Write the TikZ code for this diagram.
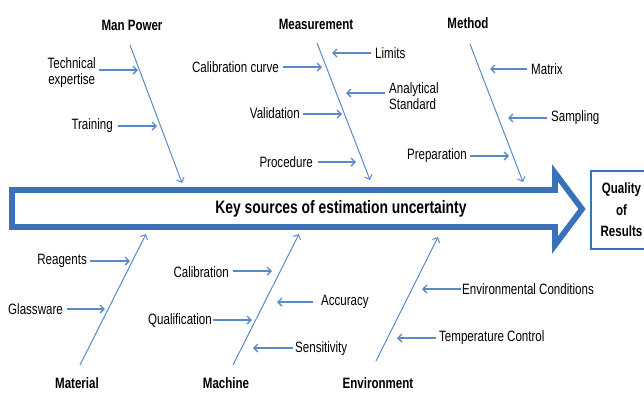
\documentclass[tikz,border=0pt]{standalone}
\usepackage{fontspec}
\setmainfont{Liberation Sans}[FakeStretch=0.77]
\usetikzlibrary{arrows.meta}
\definecolor{bonec}{HTML}{5A8AC6}
\definecolor{spinec}{HTML}{3A72B9}
\begin{document}
\begin{tikzpicture}[x=1pt,y=-1pt,
  bone/.style={draw=bonec, line width=1pt, -{Straight Barb[length=4pt,width=8pt]}},
  twig/.style={draw=bonec, line width=1.3pt, -{Straight Barb[length=4pt,width=8pt]}},
  lbl/.style={font=\fontsize{15}{16}\selectfont, inner sep=0pt},
  cat/.style={font=\bfseries\fontsize{15}{16}\selectfont, inner sep=0pt}]
\useasboundingbox (0,0) rectangle (644,392);

% spine arrow
\draw[spinec, line width=5.8pt, line join=miter, miter limit=10]
  (12,190) -- (555,190) -- (555,173) -- (582,209) -- (555,245) -- (555,227) -- (12,227) -- cycle;
\node[font=\bfseries\fontsize{18}{20}\selectfont, inner sep=0pt] (key) at (341,209) {Key sources of estimation uncertainty};

% quality box
\node[draw=spinec, line width=2pt, minimum width=62pt, minimum height=78pt, inner sep=0pt,
      align=center, font=\bfseries\fontsize{15}{21.5}\selectfont] (qual) at (621.5,210) {Quality\\of\\Results};

% Man Power
\coordinate (mpS) at (130,45); \coordinate (mpE) at (182,183);
\draw[bone] (mpS) -- (mpE);
\node[cat] (mp) at (132,25) {Man Power};
\node[lbl, align=center, anchor=east] (te) at (96,72.5) {Technical\\expertise};
\coordinate (teE) at (138,70);
\draw[twig] ([xshift=3pt,yshift=2.5pt]te.east) -- (teE);
\node[lbl, anchor=east] (tr) at (113,126) {Training};
\coordinate (trE) at (157,126);
\draw[twig] ([xshift=5pt]tr.east) -- (trE);

% Measurement
\coordinate (msS) at (317,43); \coordinate (msE) at (370,180);
\draw[bone] (msS) -- (msE);
\node[cat] (ms) at (316,24) {Measurement};
\node[lbl, anchor=west] (li) at (375,53) {Limits};
\coordinate (liE) at (332,53);
\draw[twig] ([xshift=-4pt]li.west) -- (liE);
\node[lbl, anchor=east] (cc) at (279,67) {Calibration curve};
\coordinate (ccE) at (322,67);
\draw[twig] ([xshift=4pt]cc.east) -- (ccE);
\node[lbl, anchor=west, align=left] (as) at (389,96) {Analytical\\Standard};
\coordinate (asE) at (346,93);
\draw[twig] ([xshift=-4pt,yshift=3pt]as.west) -- (asE);
\node[lbl, anchor=east] (va) at (300,113) {Validation};
\coordinate (vaE) at (342,114);
\draw[twig] ([xshift=3pt,yshift=-1pt]va.east) -- (vaE);
\node[lbl, anchor=east] (pr) at (313,162) {Procedure};
\coordinate (prE) at (356,162);
\draw[twig] ([xshift=5pt]pr.east) -- (prE);

% Method
\coordinate (meS) at (470,44); \coordinate (meE) at (523,182);
\draw[bone] (meS) -- (meE);
\node[cat] (me) at (468,23) {Method};
\node[lbl, anchor=west] (ma) at (531,69) {Matrix};
\coordinate (maE) at (490,69);
\draw[twig] ([xshift=-4pt]ma.west) -- (maE);
\node[lbl, anchor=west] (sa) at (551,118) {Sampling};
\coordinate (saE) at (508,118);
\draw[twig] ([xshift=-4pt]sa.west) -- (saE);
\node[lbl, anchor=east] (pp) at (467,156) {Preparation};
\coordinate (ppE) at (509,156);
\draw[twig] ([xshift=3pt]pp.east) -- (ppE);

% Material
\coordinate (mtS) at (80,365); \coordinate (mtE) at (146,234);
\draw[bone] (mtS) -- (mtE);
\node[cat] (mt) at (77,383) {Material};
\node[lbl, anchor=east] (re) at (87,261) {Reagents};
\coordinate (reE) at (130,261);
\draw[twig] ([xshift=3pt]re.east) -- (reE);
\node[lbl, anchor=east] (gl) at (63,309) {Glassware};
\coordinate (glE) at (105,309);
\draw[twig] ([xshift=4pt]gl.east) -- (glE);

% Machine
\coordinate (mcS) at (233,365); \coordinate (mcE) at (299,234);
\draw[bone] (mcS) -- (mcE);
\node[cat] (mc) at (226,383) {Machine};
\node[lbl, anchor=east] (ca) at (229,272) {Calibration};
\coordinate (caE) at (272,271);
\draw[twig] ([xshift=4pt,yshift=1pt]ca.east) -- (caE);
\node[lbl, anchor=east] (qu) at (212,320) {Qualification};
\coordinate (quE) at (252,320);
\draw[twig] ([xshift=1pt]qu.east) -- (quE);
\node[lbl, anchor=west] (ac) at (321,302) {Accuracy};
\coordinate (acE) at (277,302);
\draw[twig] ([xshift=-8pt]ac.west) -- (acE);
\node[lbl, anchor=west] (se) at (295,349) {Sensitivity};
\coordinate (seE) at (253,348);
\draw[twig] ([xshift=-2pt,yshift=1pt]se.west) -- (seE);

% Environment
\coordinate (enS) at (376,361); \coordinate (enE) at (438,237);
\draw[bone] (enS) -- (enE);
\node[cat] (en) at (378,383) {Environment};
\node[lbl, anchor=west] (ec) at (462,289) {Environmental Conditions};
\coordinate (ecE) at (422,289);
\draw[twig] ([xshift=-1pt]ec.west) -- (ecE);
\node[lbl, anchor=west] (tc) at (439,338) {Temperature Control};
\coordinate (tcE) at (397,338);
\draw[twig] ([xshift=-3pt]tc.west) -- (tcE);
\end{tikzpicture}
\end{document}
